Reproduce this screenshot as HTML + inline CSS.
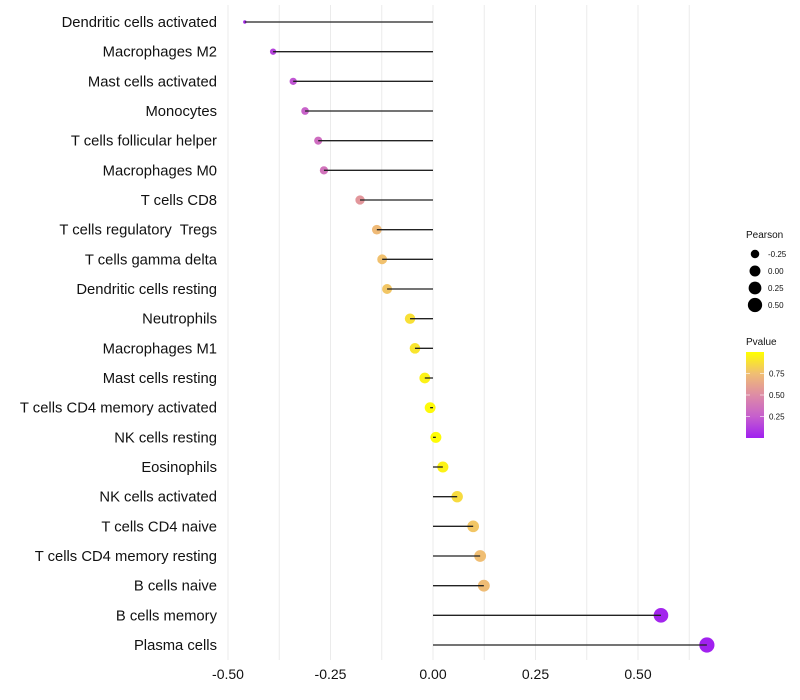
<!DOCTYPE html>
<html><head><meta charset="utf-8"><style>
body{margin:0;background:#fff;font-family:"Liberation Sans",sans-serif}
svg{display:block}
</style></head><body>
<svg id="chart" width="800" height="700"></svg>
<script>
const categories=["Dendritic cells activated","Macrophages M2","Mast cells activated","Monocytes","T cells follicular helper","Macrophages M0","T cells CD8","T cells regulatory  Tregs","T cells gamma delta","Dendritic cells resting","Neutrophils","Macrophages M1","Mast cells resting","T cells CD4 memory activated","NK cells resting","Eosinophils","NK cells activated","T cells CD4 naive","T cells CD4 memory resting","B cells naive","B cells memory","Plasma cells"];
const pearson=[-0.459,-0.390,-0.341,-0.312,-0.280,-0.266,-0.178,-0.137,-0.124,-0.112,-0.056,-0.044,-0.020,-0.007,0.007,0.024,0.059,0.098,0.115,0.124,0.556,0.668];
const pvalue=[0.04,0.14,0.21,0.27,0.33,0.36,0.55,0.73,0.76,0.78,0.88,0.9,0.95,0.98,0.99,0.95,0.86,0.78,0.75,0.74,0.02,0.005];
const xTicks=[-0.5,-0.25,0,0.25,0.5];
const xTickLabels=["-0.50","-0.25","0.00","0.25","0.50"];
const sizeLegend=[-0.25,0,0.25,0.5];
const sizeLegendLabels=["-0.25","0.00","0.25","0.50"];
const pLegend=[0.25,0.5,0.75];
const pLegendLabels=["0.25","0.50","0.75"];

const NS="http://www.w3.org/2000/svg";
const svg=document.getElementById('chart');
const x=v=>433+v*410;
const y=i=>22+i*(623/21);
const pmin=Math.min(...pearson),pmax=Math.max(...pearson);
const r=v=>{const t=Math.max(0,Math.min(1,(v-pmin)/(pmax-pmin)));return 1.7+5.9*Math.sqrt(t);};
const stops=[[0,[160,32,240]],[0.25,[198,95,205]],[0.5,[222,140,165]],[0.75,[240,190,115]],[1,[255,255,0]]];
function col(p){for(let k=1;k<stops.length;k++){if(p<=stops[k][0]){const a=stops[k-1],b=stops[k];const t=(p-a[0])/(b[0]-a[0]);return 'rgb('+a[1].map((c,j)=>Math.round(c+(b[1][j]-c)*t)).join(',')+')';}}return 'rgb(255,255,0)';}
function el(tag,at,parent){const e=document.createElementNS(NS,tag);for(const k in at)e.setAttribute(k,at[k]);(parent||svg).appendChild(e);return e;}

for(let v=-0.5;v<=0.626;v+=0.125){const g=el('line',{x1:x(v),x2:x(v),y1:5,y2:660,stroke:'#ebebeb','stroke-width':1});

}
xTicks.forEach((v,i)=>{const t=el('text',{x:x(v),y:679,'text-anchor':'middle','font-size':14,fill:'#111'});t.textContent=xTickLabels[i];

});
categories.forEach((c,i)=>{
const t=el('text',{x:217,y:y(i)+5,'text-anchor':'end','font-size':14.8,fill:'#111'});t.textContent=c;t.style.whiteSpace='pre';


const d=el('circle',{cx:x(pearson[i]),cy:y(i),r:r(pearson[i]),fill:col(pvalue[i])});


const l=el('line',{x1:x(0),x2:x(pearson[i]),y1:y(i),y2:y(i),stroke:'#222','stroke-width':1.3});


});
const lt=el('text',{x:746,y:238,'font-size':10,fill:'#111'});lt.textContent='Pearson';


sizeLegend.forEach((v,i)=>{const cy=254+i*17;
const c=el('circle',{cx:755,cy:cy,r:r(v),fill:'#000'});


const t=el('text',{x:768,y:cy+3,'font-size':8,fill:'#111'});t.textContent=sizeLegendLabels[i];

});
const pt=el('text',{x:746,y:345,'font-size':10,fill:'#111'});pt.textContent='Pvalue';


const defs=el('defs',{});const gr=el('linearGradient',{id:'pg',x1:0,y1:1,x2:0,y2:0},defs);
stops.forEach(s=>el('stop',{offset:s[0],'stop-color':'rgb('+s[1].join(',')+')'},gr));
const bar=el('rect',{x:746,y:352,width:18,height:86,fill:'url(#pg)'});


pLegend.forEach((v,i)=>{const yy=438-v*86;
el('line',{x1:746,x2:750,y1:yy,y2:yy,stroke:'#fff','stroke-opacity':0.6});
el('line',{x1:760,x2:764,y1:yy,y2:yy,stroke:'#fff','stroke-opacity':0.6});
const t=el('text',{x:769,y:yy+3,'font-size':8,fill:'#111'});t.textContent=pLegendLabels[i];

});
</script>
</body></html>
